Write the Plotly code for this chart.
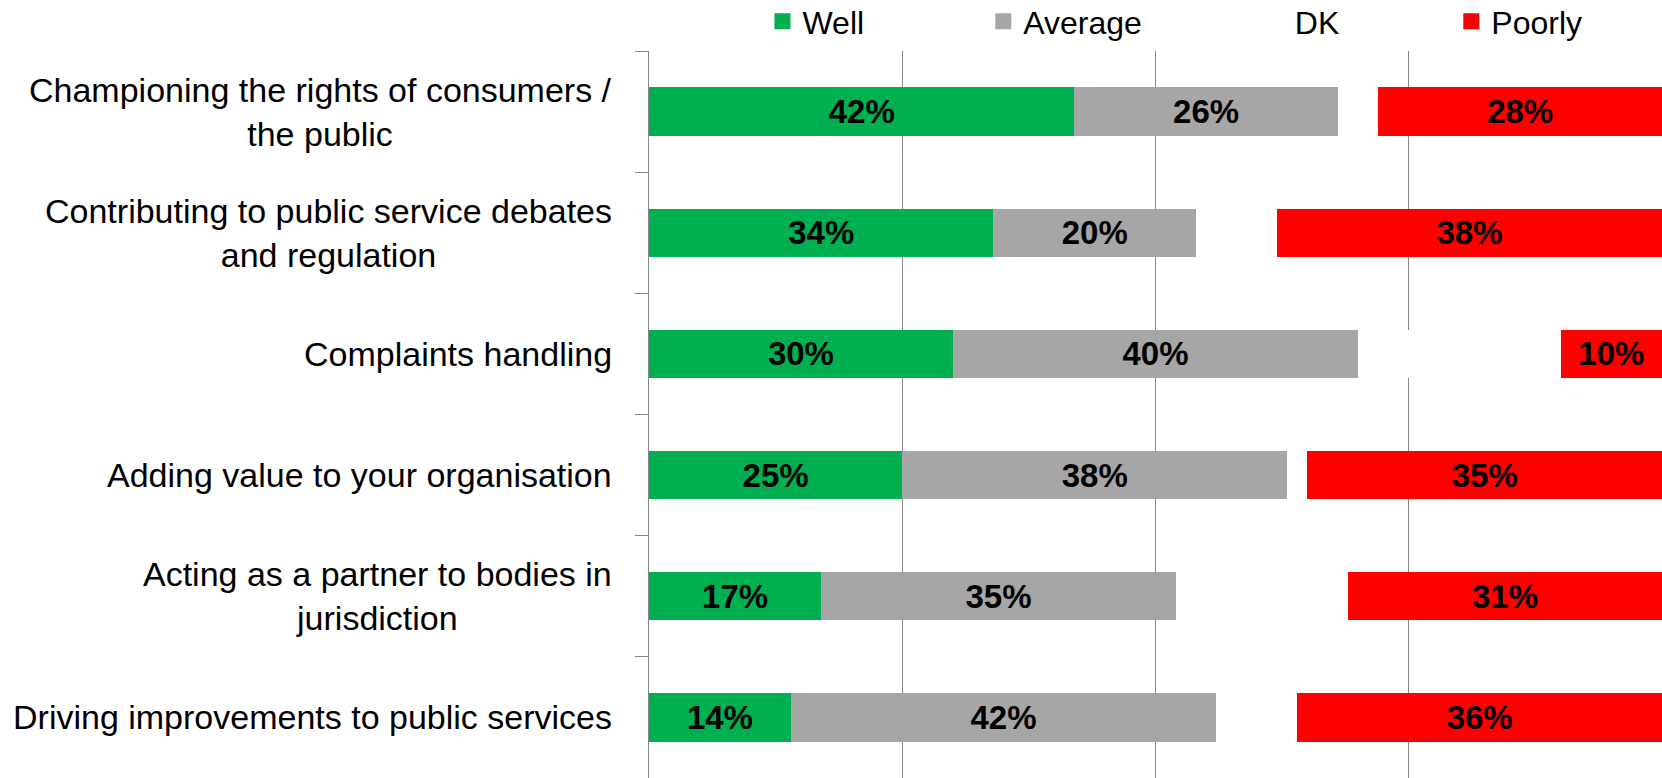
import plotly.graph_objects as go

categories = [
    "Championing the rights of consumers /<br>the public",
    "Contributing to public service debates<br>and regulation",
    "Complaints handling",
    "Adding value to your organisation",
    "Acting as a partner to bodies in<br>jurisdiction",
    "Driving improvements to public services",
]
well = [42, 34, 30, 25, 17, 14]
average = [26, 20, 40, 38, 35, 42]
dk = [4, 8, 20, 2, 17, 8]
poorly = [28, 38, 10, 35, 31, 36]

series = [
    ("Well", well, "#00B050", "legend", 0.112),
    ("Average", average, "#A6A6A6", "legend2", 0.330),
    ("DK", dk, "#FFFFFF", "legend3", 0.598),
    ("Poorly", poorly, "#FF0000", "legend4", 0.792),
]

FONT = "Liberation Sans"
fig = go.Figure()
for name, vals, color, leg, lx in series:
    show_text = name != "DK"
    fig.add_trace(go.Bar(
        name=name, y=categories, x=vals, orientation="h",
        marker=dict(color=color, line=dict(width=0)),
        text=[f"{v}%" for v in vals] if show_text else None,
        textposition="inside" if show_text else "none",
        insidetextanchor="middle",
        textangle=0,
        textfont=dict(family=FONT, size=33, color="black", weight="bold"),
        showlegend=False,
        hoverinfo="skip",
    ))
    # legend entry with a larger square swatch
    fig.add_trace(go.Scatter(
        name=name, x=[None], y=[None], mode="markers",
        marker=dict(symbol="square", size=18, color=color),
        legend=leg, showlegend=True, hoverinfo="skip",
    ))

legend_common = dict(
    orientation="h", yanchor="middle", xanchor="left", y=1.0405,
    font=dict(family=FONT, size=32, color="black"),
    bgcolor="rgba(0,0,0,0)", itemsizing="trace",
)
layout_legends = {}
for name, vals, color, leg, lx in series:
    layout_legends[leg] = dict(x=lx, **legend_common)

fig.update_layout(
    barmode="stack",
    bargap=0.6,
    width=1662, height=778,
    margin=dict(l=649, r=0, t=51, b=0, autoexpand=False),
    plot_bgcolor="white", paper_bgcolor="white",
    showlegend=True,
    xaxis=dict(range=[0, 100], dtick=25, showticklabels=False,
               showgrid=True, gridcolor="#868686", gridwidth=1.3,
               zeroline=False, showline=False, fixedrange=True),
    yaxis=dict(autorange="reversed", type="category", showticklabels=False,
               tickson="boundaries", ticks="outside", ticklen=13,
               tickcolor="#868686", tickwidth=1.3,
               showline=True, linecolor="#868686", linewidth=1.3,
               showgrid=False, zeroline=False, fixedrange=True),
    **layout_legends,
)

for cat in categories:
    fig.add_annotation(
        x=0, xref="paper", y=cat, yref="y", xanchor="right", yanchor="middle",
        xshift=-35, text=cat, showarrow=False, align="center",
        font=dict(family=FONT, size=34, color="black"),
    )

fig.write_html(
    "out.html",
    config={"displayModeBar": False},
    post_script="document.body.style.margin='0';document.body.style.overflow='hidden';",
)
